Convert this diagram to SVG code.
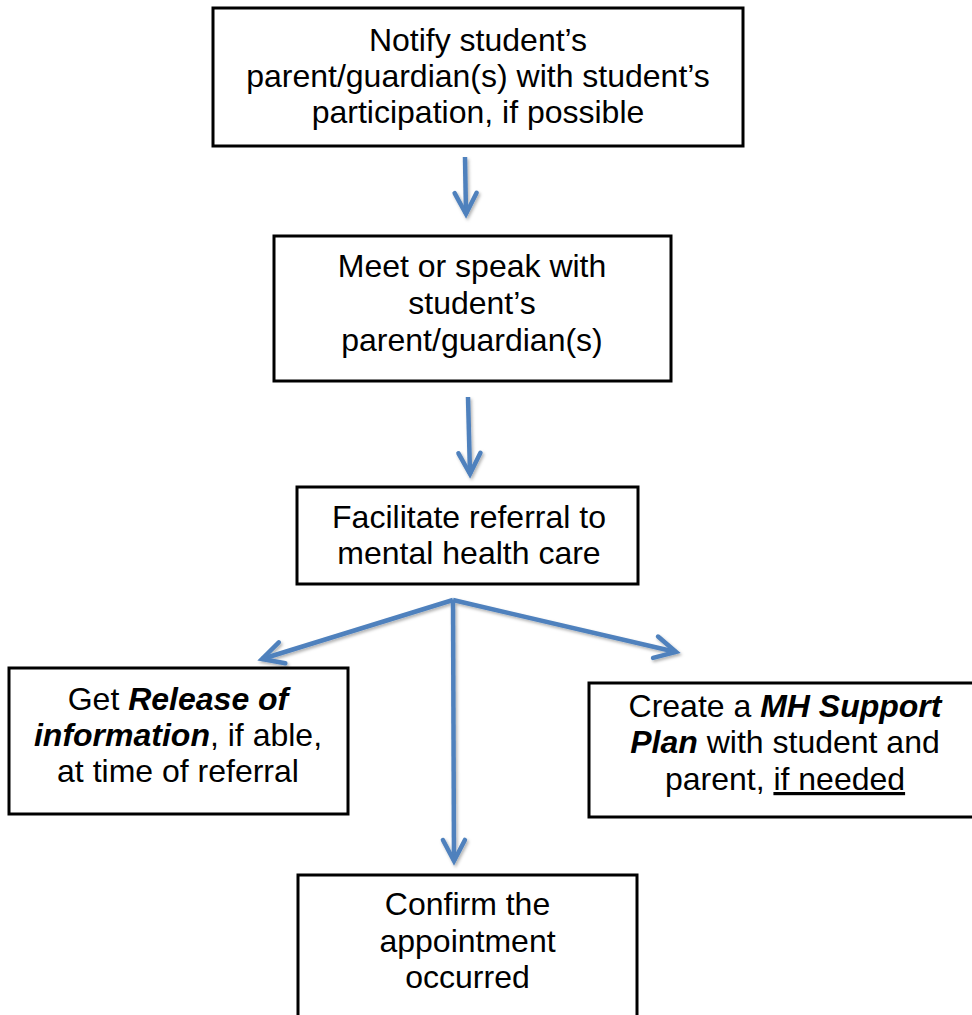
<svg xmlns="http://www.w3.org/2000/svg" width="972" height="1015" viewBox="0 0 972 1015">
<style>
.box{fill:#fff;stroke:#000;stroke-width:3}
.t{font-family:"Liberation Sans",Arial,sans-serif;font-size:32px;fill:#000;text-anchor:middle}
.bi{font-weight:bold;font-style:italic}
.c{fill:none;stroke:#4F81BD;stroke-width:4.5;marker-end:url(#ah)}
</style>
<defs>
<marker id="ah" markerUnits="userSpaceOnUse" markerWidth="40" markerHeight="40" viewBox="-30 -20 40 40" refX="0" refY="0" orient="auto" overflow="visible">
<path d="M-21,-11 L0,0 L-21,11" fill="none" stroke="#4F81BD" stroke-width="4.5" stroke-linejoin="miter" stroke-linecap="round"/>
</marker>
<filter id="sh" x="-20%" y="-20%" width="140%" height="140%">
<feDropShadow dx="1.5" dy="2" stdDeviation="1.5" flood-color="#000" flood-opacity="0.3"/>
</filter>
</defs>
<rect width="972" height="1015" fill="#fff"/>
<g id="connectors" filter="url(#sh)">
<path class="c" d="M465,157 L466,214"/>
<path class="c" d="M468,397 L470,474"/>
<path class="c" d="M453,600 L262,659"/>
<path class="c" d="M453,600 L676,652"/>
<path class="c" d="M453,600 L454,861"/>
</g>
<g id="n1">
<rect class="box" x="213" y="8" width="530" height="138"/>
<text class="t" x="478" y="51">Notify student’s</text>
<text class="t" x="478" y="87">parent/guardian(s) with student’s</text>
<text class="t" x="478" y="123">participation, if possible</text>
</g>
<g id="n2">
<rect class="box" x="274" y="236" width="397" height="145"/>
<text class="t" x="472" y="277">Meet or speak with</text>
<text class="t" x="472" y="314">student’s</text>
<text class="t" x="472" y="351">parent/guardian(s)</text>
</g>
<g id="n3">
<rect class="box" x="297" y="487" width="341" height="97"/>
<text class="t" x="469" y="528">Facilitate referral to</text>
<text class="t" x="469" y="564">mental health care</text>
</g>
<g id="n4">
<rect class="box" x="9" y="668" width="339" height="146"/>
<text class="t" x="178" y="710">Get <tspan class="bi">Release of</tspan></text>
<text class="t" x="178" y="746"><tspan class="bi">information</tspan>, if able,</text>
<text class="t" x="178" y="782">at time of referral</text>
</g>
<g id="n5">
<rect class="box" x="589" y="683" width="400" height="134"/>
<text class="t" x="785" y="717">Create a <tspan class="bi">MH Support</tspan></text>
<text class="t" x="785" y="753"><tspan class="bi">Plan</tspan> with student and</text>
<text class="t" x="785" y="790">parent, <tspan text-decoration="underline">if needed</tspan></text>
</g>
<g id="n6">
<rect class="box" x="298" y="875" width="339" height="170"/>
<text class="t" x="467.5" y="915">Confirm the</text>
<text class="t" x="467.5" y="952">appointment</text>
<text class="t" x="467.5" y="988">occurred</text>
</g>
</svg>
